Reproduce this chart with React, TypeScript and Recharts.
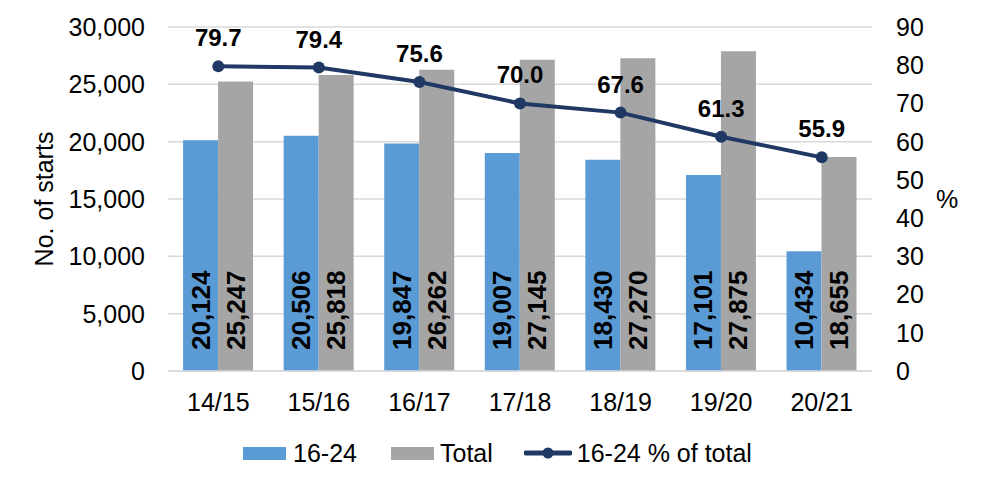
import React from 'react';
import {
  ComposedChart,
  Bar,
  Line,
  XAxis,
  YAxis,
  CartesianGrid,
  Legend,
  LabelList,
  Label,
} from 'recharts';

const categories = ['14/15', '15/16', '16/17', '17/18', '18/19', '19/20', '20/21'];
const youthStarts = [20124, 20506, 19847, 19007, 18430, 17101, 10434];
const totalStarts = [25247, 25818, 26262, 27145, 27270, 27875, 18655];
const youthPct = [79.7, 79.4, 75.6, 70.0, 67.6, 61.3, 55.9];
const leftTicks = [0, 5000, 10000, 15000, 20000, 25000, 30000];
const rightTicks = [0, 10, 20, 30, 40, 50, 60, 70, 80, 90];

const data = categories.map((c, i) => ({
  cat: c,
  youth: youthStarts[i],
  total: totalStarts[i],
  pct: youthPct[i],
}));

const FONT = '"Liberation Sans", Arial, sans-serif';
const BLUE = '#5B9BD5';
const GRAY = '#A5A5A5';
const NAVY = '#1F3864';
const FS = 25;

const fmt = (v: number) => v.toLocaleString('en-US');

const BarValue = (props: any) => {
  const { x, y, width, height, value } = props;
  const cx = Number(x) + Number(width) / 2;
  const by = Number(y) + Number(height) - 21;
  return (
    <text
      x={cx}
      y={by}
      transform={`rotate(-90, ${cx}, ${by})`}
      textAnchor="start"
      dominantBaseline="central"
      fontFamily={FONT}
      fontSize={26}
      fontWeight="bold"
      fill="#000"
    >
      {fmt(Number(value))}
    </text>
  );
};

const LineValue = (props: any) => {
  const { x, y, value } = props;
  return (
    <text
      x={Number(x)}
      y={Number(y) - 20}
      textAnchor="middle"
      fontFamily={FONT}
      fontSize={24}
      fontWeight="bold"
      fill="#000"
    >
      {Number(value).toFixed(1)}
    </text>
  );
};

const LegendContent = () => (
  <div
    style={{
      height: 30,
      display: 'flex',
      justifyContent: 'center',
      alignItems: 'center',
      fontFamily: FONT,
      fontSize: FS,
      color: '#000',
      paddingLeft: 12,
    }}
  >
    <div style={{ display: 'flex', alignItems: 'center', marginRight: 34 }}>
      <div style={{ width: 43, height: 13, background: BLUE, marginRight: 7 }} />
      <span>16-24</span>
    </div>
    <div style={{ display: 'flex', alignItems: 'center', marginRight: 31 }}>
      <div style={{ width: 43, height: 13, background: GRAY, marginRight: 6 }} />
      <span>Total</span>
    </div>
    <div style={{ display: 'flex', alignItems: 'center' }}>
      <svg width={48} height={14} style={{ marginRight: 5 }}>
        <line x1={2} y1={7} x2={46} y2={7} stroke={NAVY} strokeWidth={5} strokeLinecap="round" />
        <circle cx={24} cy={7} r={5.5} fill={NAVY} />
      </svg>
      <span>16-24 % of total</span>
    </div>
  </div>
);

export default function App() {
  return (
    <div style={{ position: 'absolute', left: 0, top: 0, width: 983, height: 481, background: '#fff' }}>
      <ComposedChart
        width={983}
        height={481}
        data={data}
        margin={{ top: 27, right: 0, bottom: 13, left: 0 }}
        barCategoryGap="15%"
        barGap={0}
      >
        <CartesianGrid vertical={false} stroke="#D9D9D9" strokeWidth={1.5} yAxisId="left" />
        <XAxis
          dataKey="cat"
          height={67}
          tickSize={0}
          tickMargin={22}
          axisLine={{ stroke: '#D9D9D9', strokeWidth: 1.5 }}
          tickLine={false}
          tick={{ fill: '#000', fontSize: FS, fontFamily: FONT }}
        />
        <YAxis
          yAxisId="left"
          width={168}
          domain={[0, 30000]}
          ticks={leftTicks}
          tickFormatter={fmt}
          axisLine={false}
          tickLine={false}
          tickSize={0}
          tickMargin={23}
          tick={{ fill: '#000', fontSize: FS, fontFamily: FONT }}
        >
          <Label
            content={(p: any) => {
              const vb = p.viewBox || {};
              const cx = Number(vb.x) + 44;
              const cy = Number(vb.y) + Number(vb.height) / 2;
              return (
                <text
                  x={cx}
                  y={cy}
                  transform={`rotate(-90, ${cx}, ${cy})`}
                  textAnchor="middle"
                  dominantBaseline="central"
                  fontFamily={FONT}
                  fontSize={FS}
                  fill="#000"
                >
                  No. of starts
                </text>
              );
            }}
          />
        </YAxis>
        <YAxis
          yAxisId="right"
          orientation="right"
          width={111}
          domain={[0, 90]}
          ticks={rightTicks}
          axisLine={false}
          tickLine={false}
          tickSize={0}
          tickMargin={24}
          tick={{ fill: '#000', fontSize: FS, fontFamily: FONT, textAnchor: 'start' }}
        >
          <Label
            content={(p: any) => {
              const vb = p.viewBox || {};
              const cx = Number(vb.x) + 75;
              const cy = Number(vb.y) + Number(vb.height) / 2;
              return (
                <text
                  x={cx}
                  y={cy}
                  textAnchor="middle"
                  dominantBaseline="central"
                  fontFamily={FONT}
                  fontSize={FS}
                  fill="#000"
                >
                  %
                </text>
              );
            }}
          />
        </YAxis>
        <Legend verticalAlign="bottom" content={<LegendContent />} />
        <Bar yAxisId="left" dataKey="youth" name="16-24" fill={BLUE} isAnimationActive={false}>
          <LabelList dataKey="youth" content={<BarValue />} />
        </Bar>
        <Bar yAxisId="left" dataKey="total" name="Total" fill={GRAY} isAnimationActive={false}>
          <LabelList dataKey="total" content={<BarValue />} />
        </Bar>
        <Line
          yAxisId="right"
          dataKey="pct"
          name="16-24 % of total"
          stroke={NAVY}
          strokeWidth={4}
          dot={{ r: 6, fill: NAVY, stroke: NAVY, strokeWidth: 0 }}
          activeDot={false}
          isAnimationActive={false}
        >
          <LabelList dataKey="pct" content={<LineValue />} />
        </Line>
      </ComposedChart>
    </div>
  );
}
